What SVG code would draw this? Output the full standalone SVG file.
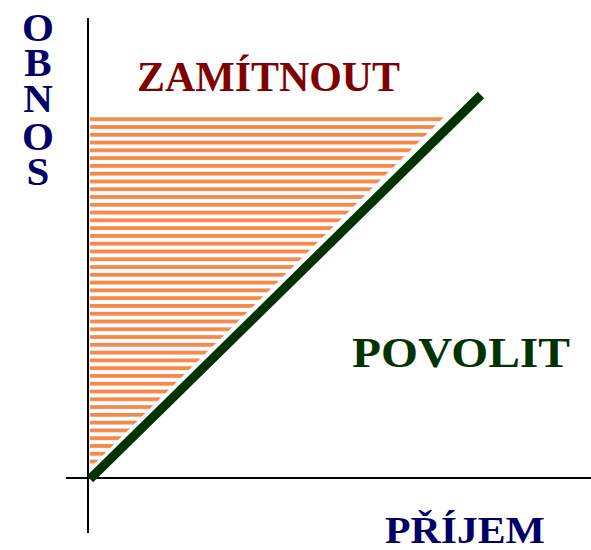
<svg xmlns="http://www.w3.org/2000/svg" width="591" height="550" viewBox="0 0 591 550">
<style>
.t{font-family:"Liberation Serif","Times New Roman",serif;font-weight:bold}
.navy{fill:#000066}
.axis{stroke:#000;stroke-width:2;fill:none}
</style>
<defs>
<pattern id="stripes" patternUnits="userSpaceOnUse" x="0" y="117.3" width="20" height="7.78">
<rect x="0" y="0" width="20" height="3.8" fill="#f4894b"/>
</pattern>
</defs>
<g id="region-hatch">
<polygon points="90,115 446,115 90,468" fill="url(#stripes)"/>
</g>
<g id="axes">
<line class="axis" x1="88" y1="18" x2="88" y2="533"/>
<line class="axis" x1="66" y1="478" x2="591" y2="478"/>
</g>
<g id="connectors">
<line x1="90" y1="479" x2="481" y2="95" stroke="#003300" stroke-width="9"/>
</g>
<g id="label-obnos">
<text class="t navy" font-size="41" text-anchor="middle"><tspan x="38" y="41">O</tspan><tspan x="38" y="76">B</tspan><tspan x="38" y="112">N</tspan><tspan x="38" y="150">O</tspan><tspan x="38" y="185">S</tspan></text>
</g>
<g id="label-zamitnout">
<text class="t" x="137" y="91" font-size="42" fill="#800000" textLength="263" lengthAdjust="spacingAndGlyphs">ZAMÍTNOUT</text>
</g>
<g id="label-povolit">
<text class="t" x="352" y="367" font-size="43" fill="#003300" textLength="218" lengthAdjust="spacingAndGlyphs">POVOLIT</text>
</g>
<g id="label-prijem">
<text class="t navy" x="385" y="543" font-size="37" textLength="160" lengthAdjust="spacingAndGlyphs">PŘÍJEM</text>
</g>
</svg>
